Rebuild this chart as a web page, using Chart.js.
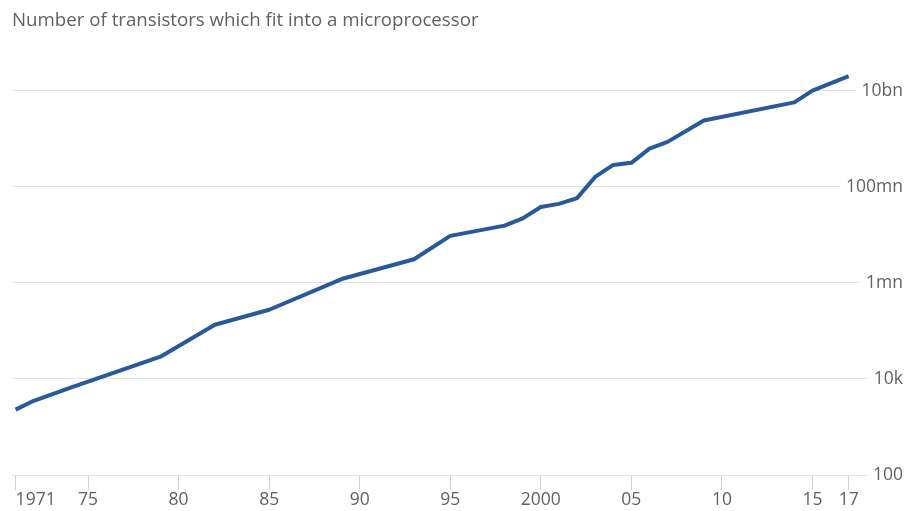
<!DOCTYPE html>
<html>
<head>
<meta charset="utf-8">
<title>Transistors per microprocessor</title>
<script src="https://cdn.jsdelivr.net/npm/chart.js@4.4.0/dist/chart.umd.min.js"></script>
<style>
  html, body { margin: 0; padding: 0; background: #fff; }
  canvas { display: block; }
</style>
</head>
<body>
<canvas id="transistorChart" width="907" height="511"></canvas>
<script>
// Transistor count of the leading microprocessor, by year
var years = [1971, 1972, 1974, 1979, 1982, 1985, 1989, 1993, 1995, 1998, 1999, 2000,
             2001, 2002, 2003, 2004, 2005, 2006, 2007, 2009, 2014, 2015, 2017];
var transistors = [2300, 3500, 6500, 29000, 134000, 275000, 1200000, 3100000, 9500000,
                   15500000, 22000000, 38000000, 44000000, 58000000, 160000000, 285000000,
                   315000000, 620000000, 860000000, 2400000000, 5700000000, 10000000000,
                   20000000000];

// Axis ticks and their labels
var xTickYears = [1971, 1975, 1980, 1985, 1990, 1995, 2000, 2005, 2010, 2015, 2017];
var xTickLabels = ['1971', '75', '80', '85', '90', '95', '2000', '05', '10', '15', '17'];
var yTickValues = [1e2, 1e4, 1e6, 1e8, 1e10];
var yTickLabels = ['100', '10k', '1mn', '100mn', '10bn'];

var textColor = '#66605c';
var xEnd = 2020;

Chart.defaults.font.family = "'Open Sans', sans-serif";

var transistorChart = new Chart(document.getElementById('transistorChart'), {
    type: 'line',
    data: {
        datasets: [{
            label: 'Transistors',
            data: years.map(function (y, i) { return { x: y, y: transistors[i] }; }),
            borderColor: '#28599a',
            borderWidth: 4,
            borderJoinStyle: 'round',
            pointRadius: 0,
            tension: 0
        }]
    },
    options: {
        responsive: false,
        animation: false,
        devicePixelRatio: 1,
        layout: { padding: { left: 12, right: 4, top: 0, bottom: 0 } },
        plugins: {
            legend: { display: false },
            tooltip: { enabled: false },
            title: {
                display: true,
                text: 'Number of transistors which fit into a microprocessor',
                align: 'start',
                color: textColor,
                font: { size: 18.7, weight: 'normal' },
                padding: { top: 9, bottom: 11.2 }
            }
        },
        scales: {
            x: {
                type: 'linear',
                min: 1970.8,
                max: xEnd,
                border: { display: false },
                grid: {
                    drawOnChartArea: false,
                    tickLength: 15,
                    // the extra end tick only keeps "17" centred
                    tickColor: function (ctx) {
                        return ctx.index < xTickYears.length ? '#d2d2d2' : 'rgba(0,0,0,0)';
                    }
                },
                afterBuildTicks: function (scale) {
                    scale.ticks = xTickYears.concat([xEnd]).map(function (v) { return { value: v }; });
                },
                ticks: {
                    autoSkip: false,
                    maxRotation: 0,
                    align: 'inner',
                    padding: 0,
                    color: textColor,
                    font: { size: 17.5 },
                    callback: function (value, index) {
                        return index < xTickLabels.length ? xTickLabels[index] : '';
                    }
                }
            },
            y: {
                type: 'logarithmic',
                position: 'right',
                min: 100,
                max: 1e11,
                border: { display: false },
                grid: { color: '#e3e3e3', drawTicks: false },
                afterBuildTicks: function (scale) {
                    scale.ticks = yTickValues.map(function (v) { return { value: v }; });
                },
                ticks: {
                    mirror: true,
                    padding: 0,
                    color: textColor,
                    font: { size: 17.5 },
                    showLabelBackdrop: true,
                    backdropColor: '#ffffff',
                    backdropPadding: { left: 6, right: 0, top: 2, bottom: 2 },
                    callback: function (value) {
                        var i = yTickValues.indexOf(value);
                        return i >= 0 ? yTickLabels[i] : '';
                    }
                }
            }
        }
    }
});
</script>
</body>
</html>
